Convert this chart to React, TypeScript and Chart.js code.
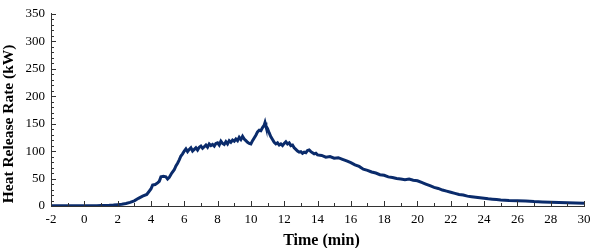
import React, { useEffect, useRef } from "react";
import { Chart, registerables } from "chart.js";

Chart.register(...registerables);

// Time (min)
const times = [
  -2, -1.75, -1.5, -1.25, -1, -0.75, -0.5, -0.25, 0, 0.25, 0.5, 0.75, 1, 1.25, 1.5, 1.75,
  2, 2.25, 2.5, 2.75, 3, 3.25, 3.5, 3.75, 4, 4.1, 4.25, 4.4, 4.5, 4.6, 4.75, 4.9, 5, 5.1, 5.25, 5.4,
  5.5, 5.6, 5.7, 5.8, 5.9, 6, 6.1, 6.2, 6.3, 6.4, 6.5, 6.6, 6.7, 6.8, 6.9,
  7, 7.1, 7.2, 7.3, 7.4, 7.5, 7.6, 7.7, 7.8, 7.9,
  8, 8.1, 8.2, 8.3, 8.4, 8.5, 8.6, 8.7, 8.8, 8.9,
  9, 9.1, 9.2, 9.3, 9.4, 9.5, 9.6, 9.7, 9.8, 9.9,
  10, 10.1, 10.2, 10.3, 10.4, 10.5, 10.6, 10.7, 10.8, 10.85, 10.9,
  11, 11.1, 11.2, 11.3, 11.4, 11.5, 11.6, 11.7, 11.8, 11.9,
  12, 12.1, 12.2, 12.3, 12.4, 12.5, 12.6, 12.7, 12.8, 12.9,
  13, 13.1, 13.2, 13.3, 13.4, 13.5, 13.6, 13.7, 13.8, 13.9,
  14, 14.25, 14.5, 14.75, 15, 15.25, 15.5, 15.75, 16, 16.25, 16.5, 16.75,
  17, 17.25, 17.5, 17.75, 18, 18.25, 18.5, 18.75, 19, 19.25, 19.5, 19.75,
  20, 20.25, 20.5, 20.75, 21, 21.25, 21.5, 21.75, 22, 22.25, 22.5, 22.75,
  23, 23.25, 23.5, 23.75, 24, 24.25, 24.5, 24.75, 25, 25.5, 26, 26.5, 27, 27.5, 28, 28.5, 29, 29.5, 30,
];

// Heat release rate (kW)
const hrr = [
  0.5, 0.4, 0.6, 0.3, 0.5, 0.4, 0.5, 0.3, 0.4, 0.5, 0.3, 0.6, 0.8, 1.0, 1.3, 1.8,
  2.5, 3.2, 4.5, 6.5, 9.5, 14, 18, 21, 31, 38, 39, 42, 45, 53, 54, 53, 49, 52, 60, 66,
  73, 78, 84, 91, 95, 100, 104, 99, 103, 106, 100, 103, 106, 102, 107,
  109, 105, 108, 111, 107, 113, 110, 112, 109, 114,
  115, 111, 118, 114, 112, 117, 113, 119, 116, 120,
  118, 122, 119, 125, 121, 127, 122, 119, 116, 114,
  113, 119, 124, 129, 135, 138, 137, 143, 147, 152, 146,
  141, 133, 126, 121, 116, 113, 115, 111, 113, 110,
  114, 117, 113, 115, 110, 111, 106, 103, 100, 98,
  99, 96, 98, 97, 101, 102, 99, 97, 95, 96,
  93, 92, 89, 90, 87, 88, 85, 82, 79, 75, 72, 67,
  65, 62, 60, 57, 56, 53, 52, 50, 49, 48, 49, 47,
  46, 43, 40, 37, 34, 32, 29, 27, 25, 23, 21, 20,
  18, 17, 16, 15, 14, 13, 12.5, 12, 11, 10, 9.5, 9, 8, 7.5, 7, 6.5, 6, 5.5, 5,
];

const xTickMin = -2;
const xTickMax = 30;
const yTickMin = 0;
const yTickMax = 350;

const xTitle = "Time (min)";
const yTitle = "Heat Release Rate (kW)";

const serif = "'Liberation Serif', 'Times New Roman', serif";

const innerTicks = {
  id: "innerTicks",
  afterDraw(chart: any) {
    const ctx = chart.ctx;
    const xs = chart.scales.x;
    const ys = chart.scales.y;
    const area = chart.chartArea;
    ctx.save();
    ctx.strokeStyle = "#333";
    ctx.lineWidth = 1;
    ctx.beginPath();
    for (let v = xTickMin; v <= xTickMax; v += 1) {
      const px = Math.round(xs.getPixelForValue(v)) + 0.5;
      const len = v % 2 === 0 ? 5 : 3;
      ctx.moveTo(px, area.bottom);
      ctx.lineTo(px, area.bottom - len);
    }
    for (let v = yTickMin; v <= yTickMax; v += 10) {
      const py = Math.round(ys.getPixelForValue(v)) + 0.5;
      const len = v % 50 === 0 ? 5 : 3;
      ctx.moveTo(area.left, py);
      ctx.lineTo(area.left + len, py);
    }
    ctx.stroke();

    // axis titles
    ctx.fillStyle = "#000";
    ctx.textAlign = "center";
    ctx.textBaseline = "middle";
    ctx.font = `bold 16px ${serif}`;
    ctx.fillText(xTitle, (area.left + area.right) / 2 + 4, chart.height - 7);
    ctx.translate(9, (area.top + area.bottom) / 2 + 14);
    ctx.rotate(-Math.PI / 2);
    ctx.font = `bold 15.5px ${serif}`;
    ctx.fillText(yTitle, 0, 0);
    ctx.restore();
  },
};

export default function App() {
  const ref = useRef<HTMLCanvasElement | null>(null);
  useEffect(() => {
    document.body.style.margin = "0";
    const chart = new Chart(ref.current!, {
      type: "line",
      data: {
        datasets: [
          {
            data: times.map((t, i) => ({ x: t, y: hrr[i] })),
            borderColor: "#0a2b6b",
            borderWidth: 3,
            pointRadius: 0,
            tension: 0,
            fill: false,
          },
        ],
      },
      options: {
        animation: false,
        responsive: false,
        layout: { padding: { top: 8, right: 8, left: 0, bottom: 0 } },
        plugins: { legend: { display: false }, tooltip: { enabled: false } },
        scales: {
          x: {
            type: "linear",
            min: xTickMin,
            max: xTickMax,
            grid: { display: false, drawTicks: true, tickLength: 6 },
            border: { display: true, color: "#333", width: 1 },
            ticks: {
              stepSize: 2,
              padding: 0,
              color: "#000",
              maxRotation: 0,
              font: { family: serif, size: 13 },
            },
            title: { display: false },
            afterFit: (s: any) => {
              s.height = 42;
            },
          },
          y: {
            type: "linear",
            min: yTickMin,
            max: yTickMax,
            grid: { display: false, drawTicks: false },
            border: { display: true, color: "#333", width: 1 },
            ticks: {
              stepSize: 50,
              padding: 6,
              color: "#000",
              font: { family: serif, size: 13 },
            },
            title: { display: false },
            afterFit: (s: any) => {
              s.width = 51;
            },
          },
        },
      },
      plugins: [innerTicks],
    });
    return () => chart.destroy();
  }, []);
  return (
    <div style={{ width: 592, height: 248 }}>
      <canvas ref={ref} width={592} height={248} style={{ display: "block" }} />
    </div>
  );
}
